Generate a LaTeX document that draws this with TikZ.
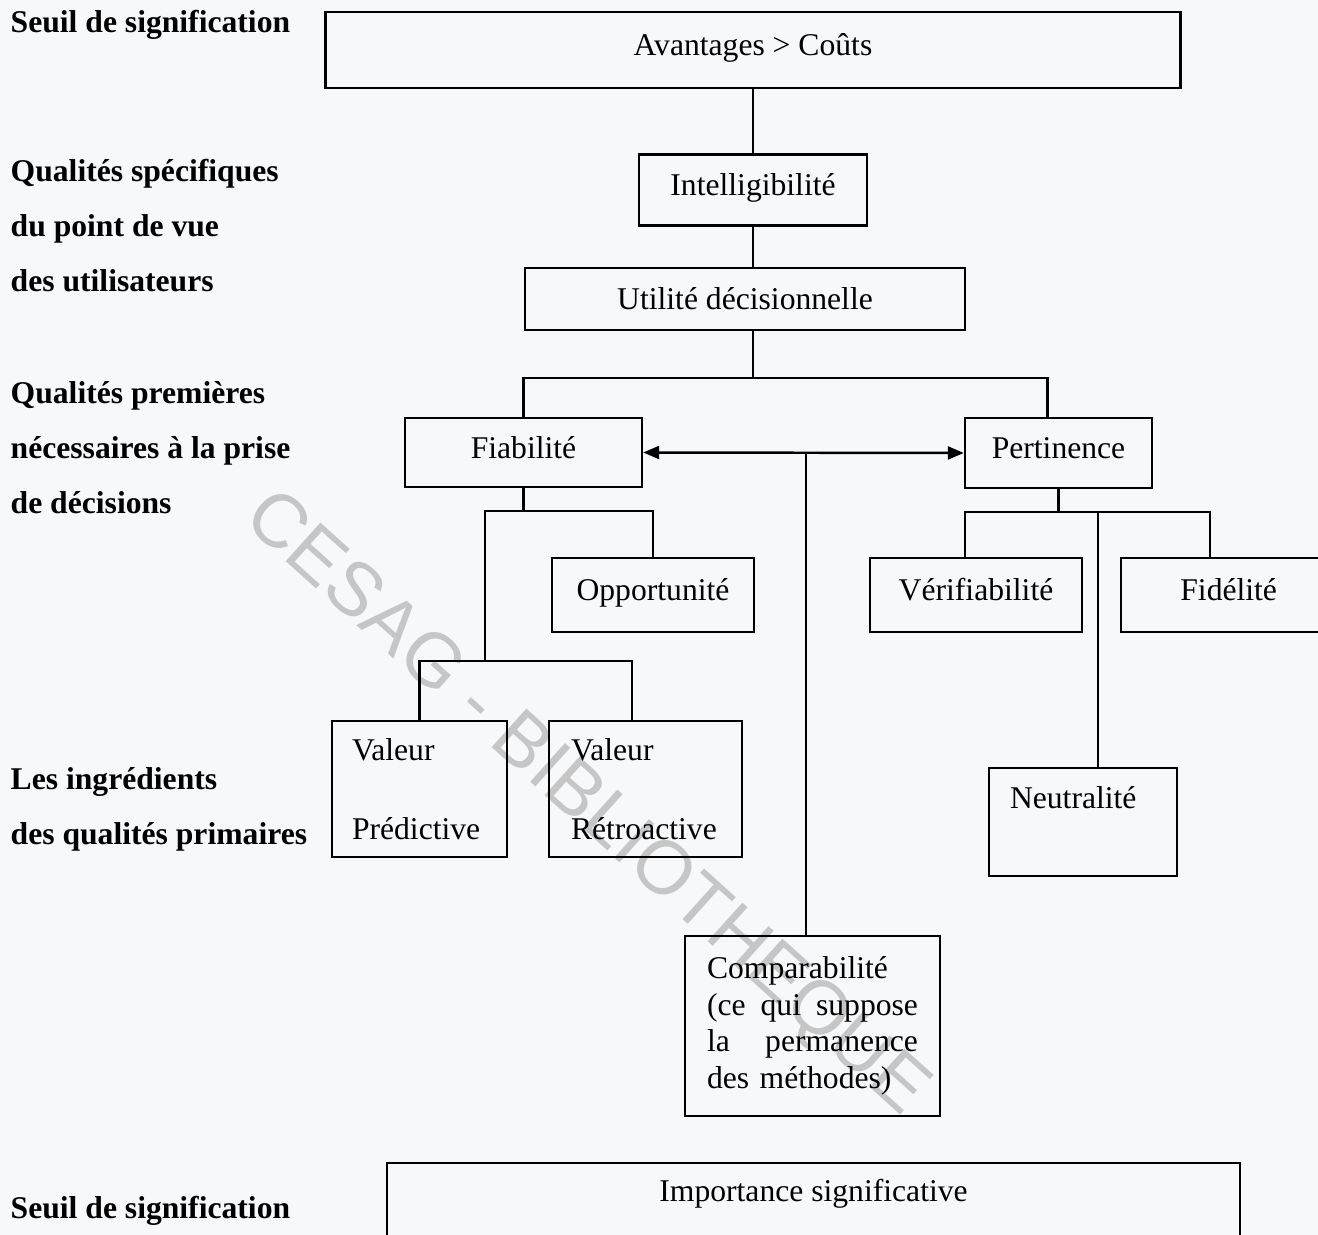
\documentclass[tikz,border=0pt]{standalone}
\usepackage{fontspec}
\setmainfont{Liberation Serif}
\newfontfamily\filigrane{Liberation Sans}
\usetikzlibrary{arrows.meta}

\begin{document}
\begin{tikzpicture}[x=0.1mm, y=-0.1mm,
    boite/.style={draw, line width=0.7pt, inner sep=0pt, font=\fontsize{9}{11}\selectfont},
    cadre/.style={boite, text height=6.2pt, text depth=3pt},
    titre/.style={anchor=west, align=left, inner sep=0pt, font=\fontsize{9}{15.65}\selectfont\bfseries},
    trait/.style={line width=0.7pt},
    >={Triangle[length=1.6mm, width=1.3mm]}]

    \useasboundingbox[fill={rgb,255:red,247;green,248;blue,250}] (0,0) rectangle (1318,1235);

    % Filigrane
    \node[rotate=-42, text=gray!45, font=\filigrane\fontsize{21.5}{22}\selectfont] (filig) at (585,805) {CESAG - BIBLIOTHEQUE};

    % Titres de gauche
    \node[titre] (seuilHaut) at (10,25) {Seuil de signification};
    \node[titre] (qualSpec) at (10,226) {Qualités spécifiques\\du point de vue\\des utilisateurs};
    \node[titre] (qualPrem) at (10,448) {Qualités premières\\nécessaires à la prise\\de décisions};
    \node[titre] (ingred) at (10,809) {Les ingrédients\\des qualités primaires};
    \node[titre] (seuilBas) at (10,1211) {Seuil de signification};

    % Cadres du haut
    \node[cadre, minimum width=85.5mm, minimum height=7.6mm] (avant) at (753,50) {Avantages > Coûts};
    \node[cadre, minimum width=22.8mm, minimum height=7.1mm] (intel) at (753,190) {Intelligibilité};
    \node[boite, minimum width=44mm, minimum height=6.2mm] (util) at (745,299) {Utilité décisionnelle};

    % Qualités premières
    \node[cadre, minimum width=23.7mm, minimum height=6.9mm] (fiab) at (523.5,452.5) {Fiabilité};
    \node[cadre, minimum width=18.7mm, minimum height=7mm] (pert) at (1058.5,453) {Pertinence};

    % Ingrédients
    \node[cadre, minimum width=20.2mm, minimum height=7.4mm] (oppo) at (653,595) {Opportunité};
    \node[boite, minimum width=17.5mm, minimum height=13.6mm, text width=13.5mm, align=left] (vpred) at (419.5,789) {Valeur\\[11.5pt]Prédictive};
    \node[boite, minimum width=19.3mm, minimum height=13.6mm, text width=14.9mm, align=left] (vretro) at (645.5,789) {Valeur\\[11.5pt]Rétroactive};
    \node[cadre, minimum width=21.2mm, minimum height=7.4mm] (verif) at (976,595) {Vérifiabilité};
    \node[cadre, minimum width=20.8mm, minimum height=7.4mm, text width=10.4mm, align=right] (fidel) at (1225,595) {Fidélité};
    \node[boite, minimum width=18.8mm, text width=14.6mm, align=left, text height=4mm, text depth=6.8mm] (neutr) at (1083,822) {Neutralité};
    \node[boite, minimum width=25.5mm, minimum height=18mm, text width=21.1mm, align=left,
          font=\fontsize{9}{10.4}\selectfont] (compa) at (812.5,1026)
          {Comparabilité\\(ce\hfill qui\hfill suppose\\la\hfill permanence\\des méthodes)};

    % Cadre du bas
    \node[boite, minimum width=85.3mm, text height=3.8mm, text depth=6mm] (impor) at (813.5,1212) {Importance significative};

    % Points de jonction
    \coordinate (nUtil) at (753,378);
    \coordinate (nArc) at (806,452.5);
    \coordinate (nFiab) at (523.5,511);
    \coordinate (nVal) at (485,661);
    \coordinate (nPert) at (1058.5,512);
    \coordinate (nNeut) at (1098,512);

    % Liaisons
    \draw[trait] (avant) -- (intel);
    \draw[trait] (intel.south) -- (intel.south |- util.north);
    \draw[trait] (util.south -| nUtil) -- (nUtil);
    \draw[trait] (fiab.north) |- (nUtil) -| ([xshift=-1.1mm]pert.north);
    \draw[trait, <->] (fiab.east) -- (pert.west);
    \draw[trait] (nArc) -- (compa.north -| nArc);

    \draw[trait] (fiab.south) -- (nFiab);
    \draw[trait] (nVal) |- (nFiab) -| (oppo.north);
    \draw[trait] (vpred.north) |- (nVal) -| ([xshift=-1.35mm]vretro.north);

    \draw[trait] (pert.south) -- (nPert);
    \draw[trait] ([xshift=-1.1mm]verif.north) |- (nPert) -| ([xshift=-1.5mm]fidel.north);
    \draw[trait] (nNeut) -- (nNeut |- neutr.north);
\end{tikzpicture}
\end{document}
